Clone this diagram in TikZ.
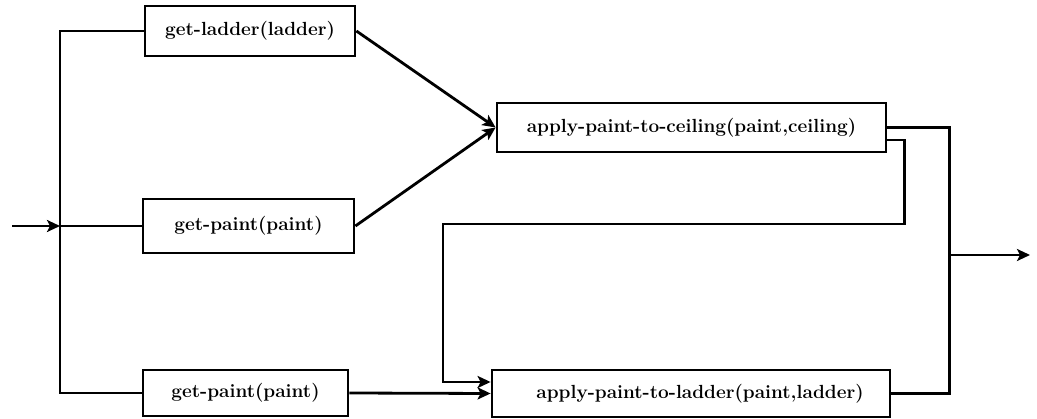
\documentclass[tikz,border=0pt]{standalone}
\usepackage{fontspec}
\usetikzlibrary{arrows.meta}
\begin{document}
\begin{tikzpicture}[x=1pt,y=-1pt,
  box/.style={draw,line width=2.8pt,rectangle,inner sep=0pt,font=\fontsize{19}{22}\selectfont\bfseries},
  conn/.style={line width=2.8pt},
  arr/.style={conn,-{Stealth[length=13pt,width=12pt,inset=3pt]}}]
\useasboundingbox (0,0) rectangle (1037,419);
\node[box,minimum width=210pt,minimum height=50pt] (gl) at (250,31) {get-ladder(ladder)};
\node[box,minimum width=211pt,minimum height=54pt] (gp1) at (248.5,226) {get-paint(paint)};
\node[box,minimum width=205pt,minimum height=46pt] (gp2) at (245.5,393) {get-paint(paint)};
\node[box,minimum width=389pt,minimum height=49pt] (ac) at (691.5,127.5) {apply-paint-to-ceiling(paint,ceiling)};
\node[box,minimum width=398pt,minimum height=47pt] (al) at (691,393.5) {\hspace{18pt}apply-paint-to-ladder(paint,ladder)};
\coordinate (in) at (12,226);
\coordinate (split) at (60,226);
\coordinate (busT) at (60,31);
\coordinate (busB) at (60,393);
\coordinate (outR) at (948,255);
\coordinate (out) at (1030,255);
\draw[arr] (in) -- (split);
\draw[conn] (gl.west) -- (busT) -- (busB) -- (gp2.west);
\draw[conn] (split) -- (gp1.west);
\draw[arr] (gl.east) -- (ac.west);
\draw[arr] (gp1.east) -- (ac.west);
\draw[arr] (gp2.east) -- (al.west);
\draw[conn] (ac.east) -- ++(62,0) |- (al.east);
\draw[arr] (outR) -- (out);
\draw[arr] ([yshift=-12.5pt]ac.east) -- ++(17,0) -- ++(0,84) -- (443,224) -- (443,382) -- ([yshift=11.5pt]al.west);
\end{tikzpicture}
\end{document}
